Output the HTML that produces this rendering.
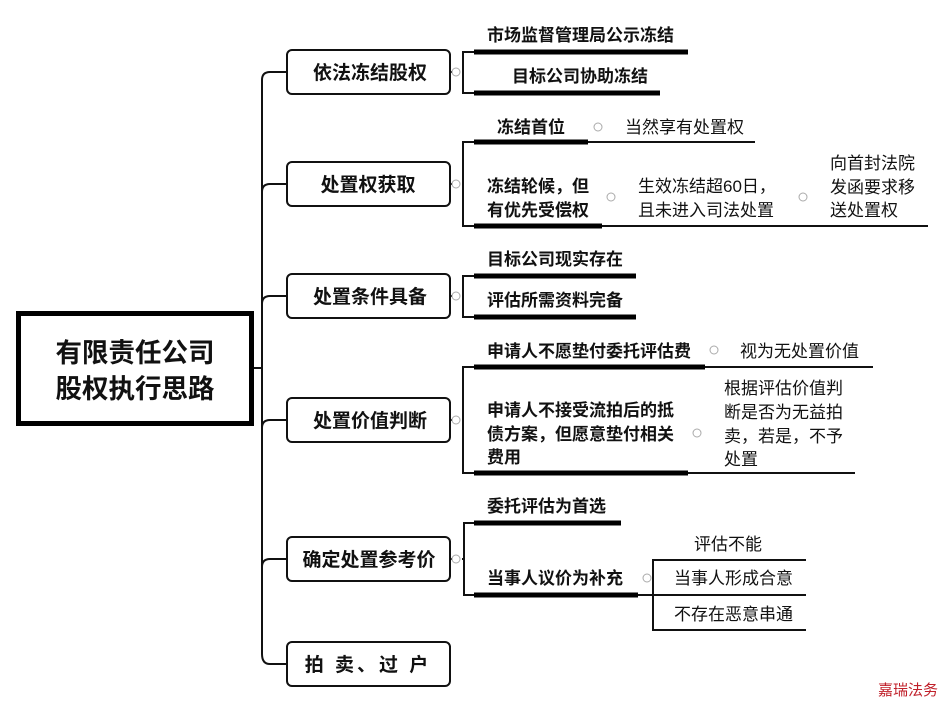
<!DOCTYPE html>
<html><head><meta charset="utf-8"><style>
html,body{margin:0;padding:0;background:#fff;}
svg{display:block;}
text{font-family:"Liberation Sans","Noto Sans CJK SC",sans-serif;fill:#111;}
.b{font-weight:bold;font-size:17px;}
.n{font-size:17px;}
.L1{font-weight:bold;font-size:19px;}
</style></head><body>
<svg width="948" height="703" viewBox="0 0 948 703" xmlns="http://www.w3.org/2000/svg">
<rect x="0" y="0" width="948" height="703" fill="#fff"/>
<rect x="18.5" y="313.5" width="233" height="110" fill="#fff" stroke="#000" stroke-width="5"/>
<text x="135" y="362" text-anchor="middle" font-size="26.5" font-weight="bold">有限责任公司</text>
<text x="135" y="398" text-anchor="middle" font-size="26.5" font-weight="bold">股权执行思路</text>
<g fill="none" stroke="#111" stroke-width="2">
<line x1="254" y1="368" x2="262" y2="368"/>
<path d="M287 72 H270 Q262 72 262 80 V654 Q262 664 270 664 H287"/>
<path d="M262 192 Q262 184 270 184 H287"/>
<path d="M262 304 Q262 296 270 296 H287"/>
<path d="M262 428 Q262 420 270 420 H287"/>
<path d="M262 567 Q262 559 270 559 H287"/>
</g>
<g fill="#fff" stroke="#111" stroke-width="2">
<rect x="287" y="50" width="163" height="44" rx="5"/>
<rect x="287" y="162" width="163" height="44" rx="5"/>
<rect x="287" y="274" width="163" height="44" rx="5"/>
<rect x="287" y="398" width="163" height="44" rx="5"/>
<rect x="287" y="537" width="163" height="44" rx="5"/>
<rect x="287" y="642" width="163" height="44" rx="5"/>
</g>
<text class="L1" x="370" y="79" text-anchor="middle">依法冻结股权</text>
<text class="L1" x="368" y="191" text-anchor="middle">处置权获取</text>
<text class="L1" x="370" y="303" text-anchor="middle">处置条件具备</text>
<text class="L1" x="370" y="427" text-anchor="middle">处置价值判断</text>
<text class="L1" x="369" y="566" text-anchor="middle">确定处置参考价</text>
<text class="L1" x="368" y="671" text-anchor="middle" letter-spacing="3">拍 卖、过 户</text>
<g fill="none" stroke="#111" stroke-width="2">
<path d="M474 52 H463 V93 H474"/>
<path d="M474 142 H463 V226 H474"/>
<path d="M474 276 H463 V317 H474"/>
<path d="M474 367 H463 V473 H474"/>
<path d="M474 523 H464 V595 H474"/>
<path d="M806 560 H653 V630 H806 M653 595 H806"/>
<line x1="450" y1="72" x2="463" y2="72" stroke-dasharray="2 2"/>
<line x1="450" y1="184" x2="463" y2="184" stroke-dasharray="2 2"/>
<line x1="450" y1="296" x2="463" y2="296" stroke-dasharray="2 2"/>
<line x1="450" y1="420" x2="463" y2="420" stroke-dasharray="2 2"/>
<line x1="450" y1="559" x2="464" y2="559" stroke-dasharray="2 2"/>
<line x1="588" y1="142" x2="755" y2="142"/>
<line x1="602" y1="226" x2="928" y2="226"/>
<line x1="705" y1="367" x2="873" y2="367"/>
<line x1="688" y1="473" x2="855" y2="473"/>
<line x1="638" y1="595" x2="653" y2="595"/>
</g>
<g stroke="#000" stroke-width="5">
<line x1="474" y1="52" x2="688" y2="52"/>
<line x1="474" y1="93" x2="660" y2="93"/>
<line x1="474" y1="142" x2="588" y2="142"/>
<line x1="474" y1="226" x2="602" y2="226"/>
<line x1="474" y1="276" x2="636" y2="276"/>
<line x1="474" y1="317" x2="636" y2="317"/>
<line x1="474" y1="367" x2="705" y2="367"/>
<line x1="474" y1="473" x2="688" y2="473"/>
<line x1="474" y1="523" x2="621" y2="523"/>
<line x1="474" y1="595" x2="638" y2="595"/>
</g>
<g fill="#fff" stroke="#aaa" stroke-width="1">
<circle cx="456" cy="72" r="4"/><circle cx="456" cy="184" r="4"/><circle cx="456" cy="296" r="4"/>
<circle cx="456" cy="420" r="4"/><circle cx="456" cy="559" r="4"/>
<circle cx="598" cy="127" r="4"/><circle cx="611" cy="197" r="4"/><circle cx="803" cy="197" r="4"/>
<circle cx="714" cy="350" r="4"/><circle cx="697" cy="433" r="4"/><circle cx="647" cy="578" r="4"/>
</g>
<text class="b" x="487" y="41">市场监督管理局公示冻结</text>
<text class="b" x="512" y="82">目标公司协助冻结</text>
<text class="b" x="497" y="133">冻结首位</text>
<text class="n" x="625" y="133">当然享有处置权</text>
<text class="b" x="487" y="192">冻结轮候，但</text>
<text class="b" x="487" y="216">有优先受偿权</text>
<text class="n" x="638" y="192">生效冻结超60日，</text>
<text class="n" x="638" y="216">且未进入司法处置</text>
<text class="n" x="830" y="169">向首封法院</text>
<text class="n" x="830" y="193">发函要求移</text>
<text class="n" x="830" y="216">送处置权</text>
<text class="b" x="487" y="265">目标公司现实存在</text>
<text class="b" x="487" y="306">评估所需资料完备</text>
<text class="b" x="487" y="357">申请人不愿垫付委托评估费</text>
<text class="n" x="740" y="357">视为无处置价值</text>
<text class="b" x="487" y="416">申请人不接受流拍后的抵</text>
<text class="b" x="487" y="440">债方案，但愿意垫付相关</text>
<text class="b" x="487" y="463">费用</text>
<text class="n" x="724" y="394">根据评估价值判</text>
<text class="n" x="724" y="418">断是否为无益拍</text>
<text class="n" x="724" y="442">卖，若是，不予</text>
<text class="n" x="724" y="465">处置</text>
<text class="b" x="487" y="512">委托评估为首选</text>
<text class="b" x="487" y="584">当事人议价为补充</text>
<text class="n" x="694" y="550">评估不能</text>
<text class="n" x="674" y="584">当事人形成合意</text>
<text class="n" x="674" y="620">不存在恶意串通</text>
<text x="878" y="695" font-size="15" style="fill:#c0202a">嘉瑞法务</text>
</svg>
</body></html>
